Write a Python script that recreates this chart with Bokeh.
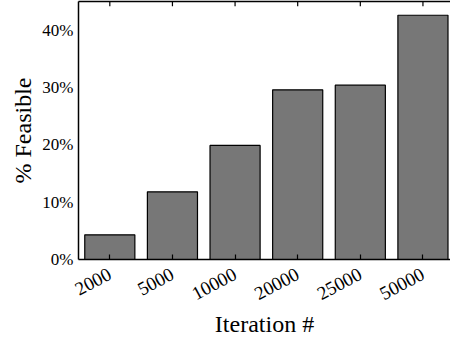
import math
from bokeh.plotting import figure
from bokeh.models import ColumnDataSource, Range1d, FixedTicker, LinearAxis
from bokeh.embed import file_html
from bokeh.resources import INLINE

# Share of feasible solutions after each iteration budget
iterations = ["2000", "5000", "10000", "20000", "25000", "50000"]
feasible_pct = [4.3, 11.8, 19.9, 29.6, 30.4, 42.6]
y_ticks = [0, 10, 20, 30, 40]
y_max = 45

FONT = "Liberation Serif"

positions = list(range(len(iterations)))
source = ColumnDataSource(dict(x=positions, top=feasible_pct, label=iterations))

p = figure(
    width=450, height=345,
    output_backend="svg", toolbar_location=None,
    x_range=Range1d(-0.5, 5.44), y_range=Range1d(0, y_max),
    x_axis_location=None, y_axis_location=None,
    min_border_left=78, min_border_right=0, min_border_top=1, min_border_bottom=86,
)
p.outline_line_color = None
p.grid.visible = False
p.background_fill_color = "white"
p.border_fill_color = "white"

p.vbar(x="x", top="top", width=0.8, bottom=0, source=source,
       fill_color="#777777", line_color="black", line_width=1.2)

# inward tick marks hanging from the top edge, one per bar
tick_len = 0.85
p.segment(x0=positions, y0=[y_max] * len(positions),
          x1=positions, y1=[y_max - tick_len] * len(positions),
          line_color="black", line_width=1.2)

xt = FixedTicker(ticks=positions)
overrides = {i: lab for i, lab in enumerate(iterations)}

bottom = LinearAxis(ticker=xt, major_label_overrides=overrides,
                    axis_label="Iteration #")
bottom.major_label_orientation = math.radians(28)
bottom.major_tick_in = 5
bottom.major_tick_out = 0
bottom.minor_tick_line_color = None
bottom.axis_line_width = 1.5
bottom.axis_line_color = "black"
bottom.major_tick_line_color = "black"
bottom.major_tick_line_width = 1.2
bottom.major_label_text_font = FONT
bottom.major_label_text_font_size = "19px"
bottom.major_label_text_color = "black"
bottom.major_label_standoff = 13
bottom.axis_label_text_font = FONT
bottom.axis_label_text_font_size = "24px"
bottom.axis_label_text_font_style = "normal"
bottom.axis_label_text_color = "black"
bottom.axis_label_standoff = 2
p.add_layout(bottom, "below")

# plain top edge of the frame
top = LinearAxis(ticker=FixedTicker(ticks=[]))
top.major_tick_line_color = None
top.minor_tick_line_color = None
top.axis_line_width = 1.5
top.axis_line_color = "black"
p.add_layout(top, "above")

left = LinearAxis(ticker=FixedTicker(ticks=y_ticks),
                  major_label_overrides={v: f"{v}%" for v in y_ticks},
                  axis_label="% Feasible")
left.major_tick_in = 0
left.major_tick_out = 0
left.minor_tick_line_color = None
left.axis_line_width = 1.5
left.axis_line_color = "black"
left.major_label_text_font = FONT
left.major_label_text_font_size = "17px"
left.major_label_text_color = "black"
left.major_label_standoff = 5
left.axis_label_text_font = FONT
left.axis_label_text_font_size = "24px"
left.axis_label_text_font_style = "normal"
left.axis_label_text_color = "black"
left.axis_label_standoff = 3
p.add_layout(left, "left")

open("out.html", "w").write(file_html(p, INLINE))
